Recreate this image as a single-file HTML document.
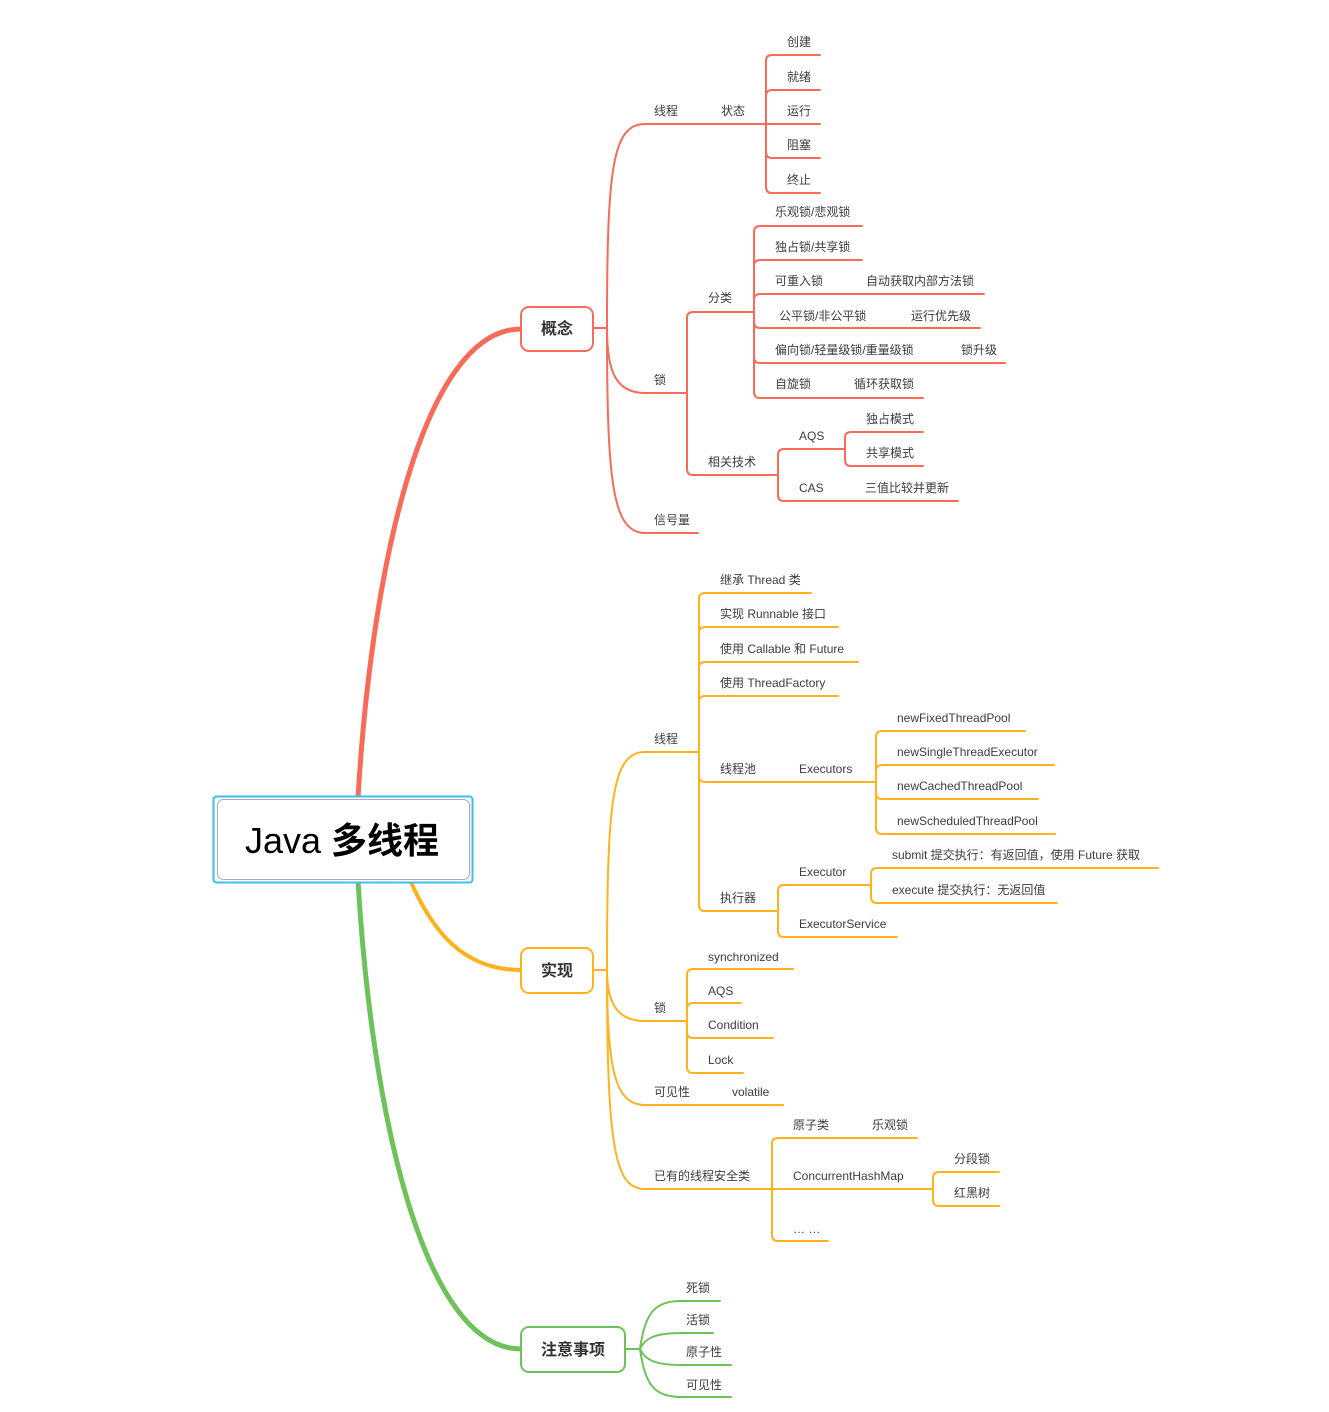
<!DOCTYPE html>
<html><head><meta charset="utf-8"><style>
html,body{margin:0;padding:0;background:#fff;}
svg{display:block;}
text{font-family:"Liberation Sans","Noto Sans CJK SC",sans-serif;font-size:12px;fill:#3c3c3c;}
.b{font-size:16px;font-weight:bold;fill:#333;}
</style></head><body>
<svg width="1329" height="1412" viewBox="0 0 1329 1412" xmlns="http://www.w3.org/2000/svg">
<g fill="none" stroke-linecap="round">
<!-- main branches -->
<path d="M358,798 C372,560 425,329 521,329" stroke="#F86B58" stroke-width="5"/>
<path d="M358,880 C372,1120 425,1349 521,1349" stroke="#6DC25A" stroke-width="5"/>
<path d="M410,880 C432,930 462,970 521,970" stroke="#FFB21C" stroke-width="4"/>

<!-- RED -->
<g stroke="#F86B58" stroke-width="2">
<path d="M593,328 H607"/>
<path d="M607,328 C607,170 612,124 645,124 H820"/>
<path d="M766,124 V61 Q766,55 772,55 H820"/>
<path d="M766,124 V96 Q766,90 772,90 H820"/>
<path d="M766,124 V152 Q766,158 772,158 H820"/>
<path d="M766,124 V187 Q766,193 772,193 H820"/>
<path d="M607,328 C607,370 615,393 645,393 H687"/>
<path d="M687,393 V318 Q687,312 693,312 H754"/>
<path d="M687,393 V469 Q687,475 693,475 H778"/>
<path d="M754,312 V232 Q754,226 760,226 H862"/>
<path d="M754,312 V266 Q754,260 760,260 H862"/>
<path d="M754,312 V300 Q754,294 760,294 H984"/>
<path d="M754,312 V322 Q754,328 760,328 H980"/>
<path d="M754,312 V357 Q754,363 760,363 H1005"/>
<path d="M754,312 V392 Q754,398 760,398 H923"/>
<path d="M778,475 V455 Q778,449 784,449 H845"/>
<path d="M778,475 V495 Q778,501 784,501 H958"/>
<path d="M845,449 V438 Q845,432 851,432 H923"/>
<path d="M845,449 V460 Q845,466 851,466 H923"/>
<path d="M607,328 C607,480 612,533 645,533 H698"/>
</g>

<!-- ORANGE -->
<g stroke="#FFB21C" stroke-width="2">
<path d="M593,970 H607"/>
<path d="M607,970 C607,800 612,752 645,752 H699"/>
<path d="M699,752 V599 Q699,593 705,593 H811"/>
<path d="M699,752 V633 Q699,627 705,627 H838"/>
<path d="M699,752 V668 Q699,662 705,662 H858"/>
<path d="M699,752 V702 Q699,696 705,696 H838"/>
<path d="M699,752 V776 Q699,782 705,782 H876"/>
<path d="M699,752 V905 Q699,911 705,911 H778"/>
<path d="M876,782 V737 Q876,731 882,731 H1025"/>
<path d="M876,782 V771 Q876,765 882,765 H1054"/>
<path d="M876,782 V793 Q876,799 882,799 H1038"/>
<path d="M876,782 V828 Q876,834 882,834 H1055"/>
<path d="M778,911 V891 Q778,885 784,885 H871"/>
<path d="M778,911 V931 Q778,937 784,937 H897"/>
<path d="M871,885 V874 Q871,868 877,868 H1158"/>
<path d="M871,885 V897 Q871,903 877,903 H1057"/>
<path d="M607,970 C607,1000 615,1021 645,1021 H687"/>
<path d="M687,1021 V975 Q687,969 693,969 H793"/>
<path d="M687,1021 V1009 Q687,1003 693,1003 H741"/>
<path d="M687,1021 V1032 Q687,1038 693,1038 H773"/>
<path d="M687,1021 V1067 Q687,1073 693,1073 H743"/>
<path d="M607,970 C607,1070 615,1105 645,1105 H783"/>
<path d="M607,970 C607,1150 615,1189 645,1189 H933"/>
<path d="M772,1189 V1144 Q772,1138 778,1138 H917"/>
<path d="M772,1189 V1235 Q772,1241 778,1241 H828"/>
<path d="M933,1189 V1178 Q933,1172 939,1172 H999"/>
<path d="M933,1189 V1200 Q933,1206 939,1206 H999"/>
</g>

<!-- GREEN -->
<g stroke="#6DC25A" stroke-width="2">
<path d="M625,1349 H640"/>
<path d="M640,1349 C645,1312 655,1301 682,1301 H720"/>
<path d="M640,1349 C645,1338 655,1333 682,1333 H713"/>
<path d="M640,1349 C645,1360 655,1365 682,1365 H731"/>
<path d="M640,1349 C645,1386 655,1397 682,1397 H731"/>
</g>
</g>

<!-- center box -->
<rect x="213.5" y="796.5" width="259" height="86" rx="3" fill="#fff" stroke="#3BBDF7" stroke-width="2"/>
<rect x="217.5" y="799.5" width="252" height="80" rx="6" fill="#fff" stroke="#A9ABB6" stroke-width="1"/>
<text x="342" y="853" text-anchor="middle" style="font-size:36px;fill:#000;"><tspan>Java </tspan><tspan style="font-weight:bold">多线程</tspan></text>

<!-- level1 boxes -->
<rect x="521" y="307" width="72" height="44" rx="8" fill="#fff" stroke="#F86B58" stroke-width="2"/>
<text class="b" x="557" y="334" text-anchor="middle">概念</text>
<rect x="521" y="948" width="72" height="45" rx="8" fill="#fff" stroke="#FFB21C" stroke-width="2"/>
<text class="b" x="557" y="976" text-anchor="middle">实现</text>
<rect x="521" y="1327" width="104" height="45" rx="8" fill="#fff" stroke="#6DC25A" stroke-width="2"/>
<text class="b" x="573" y="1355" text-anchor="middle">注意事项</text>

<!-- red texts -->
<text x="654" y="115">线程</text>
<text x="721" y="115">状态</text>
<text x="787" y="46">创建</text>
<text x="787" y="81">就绪</text>
<text x="787" y="115">运行</text>
<text x="787" y="149">阻塞</text>
<text x="787" y="184">终止</text>
<text x="654" y="384">锁</text>
<text x="708" y="302">分类</text>
<text x="775" y="216">乐观锁/悲观锁</text>
<text x="775" y="251">独占锁/共享锁</text>
<text x="775" y="285">可重入锁</text>
<text x="866" y="285">自动获取内部方法锁</text>
<text x="779" y="320">公平锁/非公平锁</text>
<text x="911" y="320">运行优先级</text>
<text x="775" y="354">偏向锁/轻量级锁/重量级锁</text>
<text x="961" y="354">锁升级</text>
<text x="775" y="388">自旋锁</text>
<text x="854" y="388">循环获取锁</text>
<text x="708" y="466">相关技术</text>
<text x="799" y="440">AQS</text>
<text x="866" y="423">独占模式</text>
<text x="866" y="457">共享模式</text>
<text x="799" y="492">CAS</text>
<text x="865" y="492">三值比较并更新</text>
<text x="654" y="524">信号量</text>

<!-- orange texts -->
<text x="654" y="743">线程</text>
<text x="720" y="584">继承 Thread 类</text>
<text x="720" y="618">实现 Runnable 接口</text>
<text x="720" y="653">使用 Callable 和 Future</text>
<text x="720" y="687">使用 ThreadFactory</text>
<text x="720" y="773">线程池</text>
<text x="799" y="773">Executors</text>
<text x="897" y="722">newFixedThreadPool</text>
<text x="897" y="756">newSingleThreadExecutor</text>
<text x="897" y="790">newCachedThreadPool</text>
<text x="897" y="825">newScheduledThreadPool</text>
<text x="720" y="902">执行器</text>
<text x="799" y="876">Executor</text>
<text x="892" y="859">submit 提交执行：有返回值，使用 Future 获取</text>
<text x="892" y="894">execute 提交执行：无返回值</text>
<text x="799" y="928">ExecutorService</text>
<text x="654" y="1012">锁</text>
<text x="708" y="961">synchronized</text>
<text x="708" y="995">AQS</text>
<text x="708" y="1029">Condition</text>
<text x="708" y="1064">Lock</text>
<text x="654" y="1096">可见性</text>
<text x="732" y="1096">volatile</text>
<text x="654" y="1180">已有的线程安全类</text>
<text x="793" y="1129">原子类</text>
<text x="872" y="1129">乐观锁</text>
<text x="793" y="1180">ConcurrentHashMap</text>
<text x="954" y="1163">分段锁</text>
<text x="954" y="1197">红黑树</text>
<text x="793" y="1233">… …</text>

<!-- green texts -->
<text x="686" y="1292">死锁</text>
<text x="686" y="1324">活锁</text>
<text x="686" y="1356">原子性</text>
<text x="686" y="1389">可见性</text>
</svg>
</body></html>
